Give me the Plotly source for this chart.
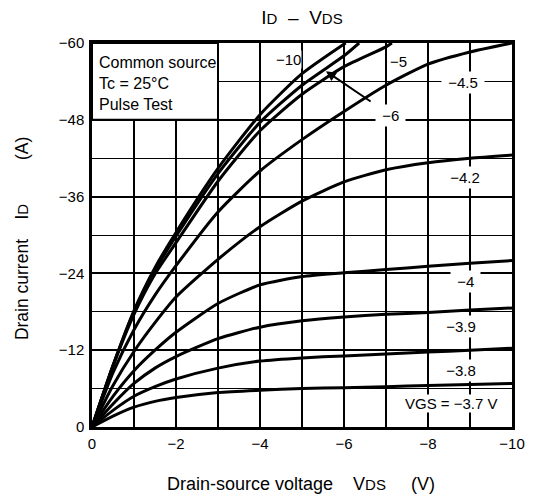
import plotly.graph_objects as go

# Drain-source voltage sample points (V)
vds_grid = [0, -0.5, -1, -1.5, -2, -3, -4, -5, -6, -7, -8, -9, -10]

# Drain current (A) for each gate-source voltage on the common grid
id_vgs_4_5 = [0, -8.5, -15.2, -20.6, -25.2, -33.6, -40.0, -44.9, -49.3, -53.4, -56.7, -58.6, -60.0]
id_vgs_4_2 = [0, -6.5, -11.8, -16.3, -20.3, -26.2, -31.3, -35.3, -38.3, -40.2, -41.3, -42.0, -42.5]
id_vgs_4_0 = [0, -4.8, -8.8, -12.0, -14.8, -19.3, -22.2, -23.5, -24.1, -24.6, -25.1, -25.6, -26.0]
id_vgs_3_9 = [0, -3.6, -6.8, -9.2, -11.0, -13.8, -15.6, -16.6, -17.2, -17.6, -17.9, -18.3, -18.6]
id_vgs_3_8 = [0, -2.6, -4.8, -6.3, -7.5, -9.2, -10.3, -10.8, -11.1, -11.4, -11.7, -12.0, -12.3]
id_vgs_3_7 = [0, -1.7, -3.1, -4.0, -4.6, -5.4, -5.75, -6.0, -6.15, -6.3, -6.5, -6.65, -6.8]

# Curves that leave the chart through the top edge
vds_vgs_10 = [0, -0.5, -1, -1.5, -2, -3, -4, -5, -6.04]
id_vgs_10 = [0, -9.6, -18.2, -24.9, -30.4, -40.4, -48.8, -55.2, -60.0]
vds_vgs_6 = [0, -0.5, -1, -1.5, -2, -3, -4, -5, -6, -6.36]
id_vgs_6 = [0, -9.6, -18.0, -24.5, -29.8, -39.6, -47.6, -53.4, -58.0, -60.0]
vds_vgs_5 = [0, -0.5, -1, -1.5, -2, -3, -4, -5, -6, -7, -7.14]
id_vgs_5 = [0, -9.5, -17.6, -23.9, -28.8, -38.4, -46.3, -52.0, -56.3, -59.4, -60.0]

# Curve labels: text, V position, I position
label_texts = ["−10", "−5", "−4.5", "−6", "−4.2", "−4", "−3.9", "−3.8", "VGS = −3.7 V"]
label_vds = [-4.67, -7.3, -8.83, -7.1, -8.87, -8.9, -8.79, -8.79, -8.55]
label_id = [-57.5, -57.1, -53.8, -48.7, -39.0, -22.7, -15.7, -8.8, -3.75]
label_padded = [False, False, True, True, True, True, True, True, False]

# Pointer from the "−6" label to its curve: (V, I) of tail and head
pointer_tail = (-6.67, -50.7)
pointer_head = (-5.57, -55.6)

FONT = "Liberation Sans, Arial, Helvetica, sans-serif"
NB = "\u00a0"

fig = go.Figure()

curves = [
    (vds_vgs_10, id_vgs_10),
    (vds_vgs_6, id_vgs_6),
    (vds_vgs_5, id_vgs_5),
    (vds_grid, id_vgs_4_5),
    (vds_grid, id_vgs_4_2),
    (vds_grid, id_vgs_4_0),
    (vds_grid, id_vgs_3_9),
    (vds_grid, id_vgs_3_8),
    (vds_grid, id_vgs_3_7),
]
for xs, ys in curves:
    fig.add_trace(go.Scatter(
        x=xs, y=ys, mode="lines",
        line=dict(color="black", width=3, shape="spline", smoothing=0.6),
        showlegend=False, hoverinfo="skip",
    ))

annotations = []
for txt, vx, iy, pad in zip(label_texts, label_vds, label_id, label_padded):
    t = (NB + txt + NB) if pad else txt
    annotations.append(dict(
        x=vx, y=iy, xref="x", yref="y", text=t, showarrow=False,
        font=dict(family=FONT, size=15, color="black"),
        bgcolor="white", borderpad=2 if pad else 0,
        xanchor="center", yanchor="middle",
    ))

annotations.append(dict(
    x=pointer_head[0], y=pointer_head[1], ax=pointer_tail[0], ay=pointer_tail[1],
    xref="x", yref="y", axref="x", ayref="y", text="", showarrow=True,
    arrowhead=2, arrowsize=1, arrowwidth=2, arrowcolor="black", standoff=0,
))

# Test conditions box text
annotations.append(dict(
    x=0.0125, y=0.895, xref="paper", yref="paper",
    text="Common source<br>Tc = 25°C<br>Pulse Test",
    showarrow=False, align="left", xanchor="left", yanchor="middle",
    font=dict(family=FONT, size=16, color="black"),
))

# Axis titles
annotations.append(dict(
    x=0.498, y=-0.148, xref="paper", yref="paper",
    text="Drain-source voltage" + NB * 4 + "V<span style='font-size:15px'>DS</span>" + NB * 5 + "(V)",
    showarrow=False, xanchor="center", yanchor="middle",
    font=dict(family=FONT, size=18, color="black"),
))
annotations.append(dict(
    x=-0.166, y=0.49, xref="paper", yref="paper", textangle=-90,
    text="Drain current" + NB * 4 + "I<span style='font-size:15px'>D</span>" + NB * 9 + "(A)",
    showarrow=False, xanchor="center", yanchor="middle",
    font=dict(family=FONT, size=17.5, color="black"),
))

shapes = [dict(
    type="rect", xref="x", yref="y", x0=0, x1=-3, y0=-48, y1=-60,
    fillcolor="white", line=dict(color="black", width=2), layer="above",
)]

fig.update_layout(
    width=537, height=501,
    margin=dict(l=92, r=20, t=43, b=74),
    paper_bgcolor="white", plot_bgcolor="white",
    font=dict(family=FONT, color="black"),
    title=dict(
        text="I<span style='font-size:15px'>D</span>" + NB * 2 + "–" + NB * 2
             + "V<span style='font-size:15px'>DS</span>",
        x=0.5, xref="paper", xanchor="center",
        y=1 - 17 / 501, yref="container", yanchor="middle",
        font=dict(family=FONT, size=19, color="black"),
    ),
    annotations=annotations,
    shapes=shapes,
)

fig.update_xaxes(
    range=[0, -10], tick0=0, dtick=2,
    showgrid=True, gridcolor="black", gridwidth=1.5,
    minor=dict(dtick=1, tick0=0, showgrid=True, gridcolor="black", gridwidth=1.5),
    showline=True, linecolor="black", linewidth=2.5, mirror=True,
    zeroline=False, ticks="", ticklabelstandoff=1,
    tickfont=dict(family=FONT, size=15, color="black"),
)
fig.update_yaxes(
    range=[0, -60], tick0=0, dtick=12,
    showgrid=True, gridcolor="black", gridwidth=2,
    minor=dict(dtick=6, tick0=0, showgrid=True, gridcolor="black", gridwidth=1.3),
    showline=True, linecolor="black", linewidth=2.5, mirror=True,
    zeroline=False, ticks="", ticklabelstandoff=2,
    tickfont=dict(family=FONT, size=15, color="black"),
)

fig.write_html("out.html")
